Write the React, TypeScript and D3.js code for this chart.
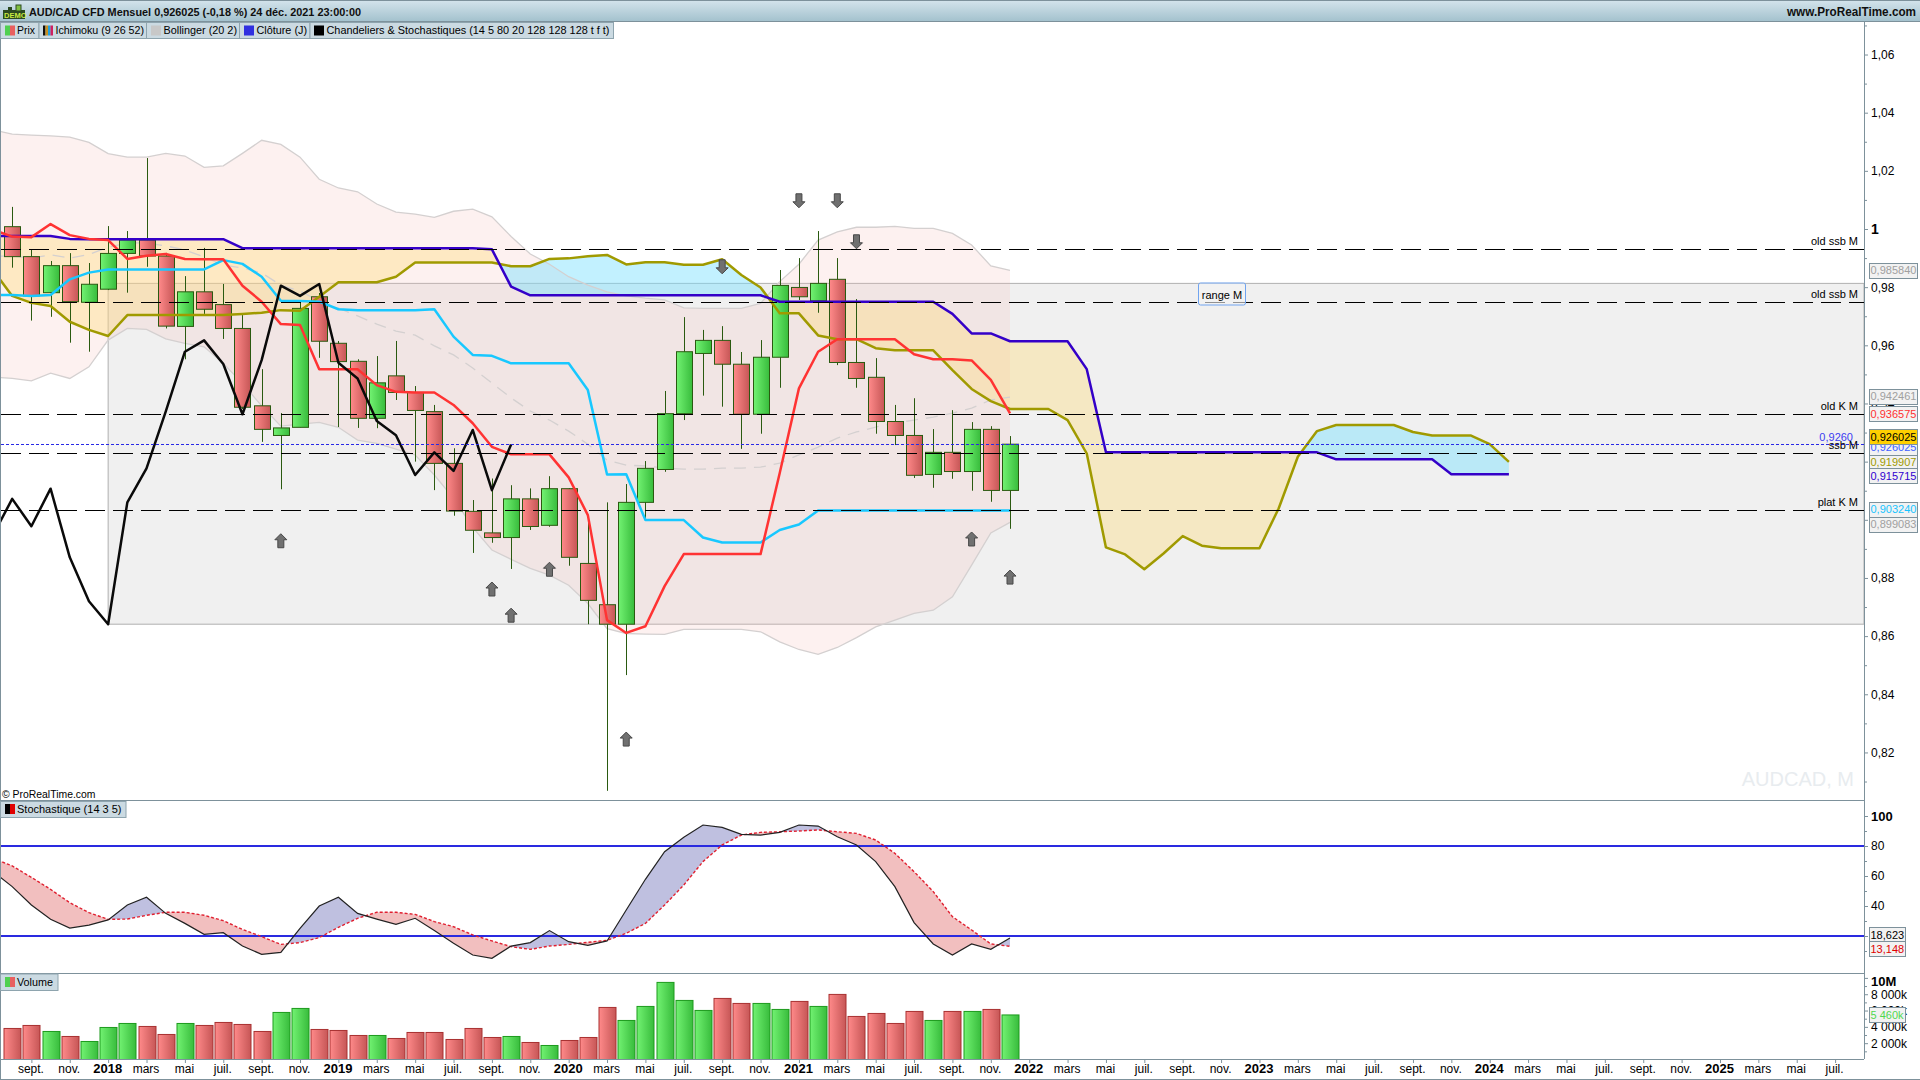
import React, { useEffect, useRef } from "react";
import * as d3 from "d3";

// monthly candles, index 0 = août 2017, 52 = déc. 2021
const opens = [1.0008,0.9905,0.9781,0.9874,0.9748,0.9793,0.9916,0.9962,0.9907,0.9665,0.9784,0.9740,0.9658,0.9392,0.9290,0.9318,0.9767,0.9607,0.9545,0.9349,0.9495,0.9438,0.9372,0.9194,0.9029,0.8955,0.8939,0.9072,0.8981,0.9107,0.8850,0.8708,0.8641,0.9060,0.9173,0.9365,0.9572,0.9617,0.9535,0.9363,0.9559,0.9799,0.9753,0.9827,0.9541,0.9490,0.9338,0.9290,0.9156,0.9232,0.9166,0.9311,0.9101];
const closes = [0.9905,0.9770,0.9874,0.9750,0.9810,0.9916,0.9962,0.9907,0.9666,0.9784,0.9724,0.9658,0.9387,0.9311,0.9316,0.9727,0.9614,0.9544,0.9349,0.9471,0.9438,0.9376,0.9194,0.9030,0.8964,0.8939,0.9072,0.8977,0.9107,0.8871,0.8723,0.8641,0.9060,0.9177,0.9365,0.9578,0.9617,0.9535,0.9363,0.9559,0.9806,0.9767,0.9813,0.9541,0.9486,0.9338,0.9290,0.9153,0.9232,0.9166,0.9311,0.9101,0.9260];
const highs = [1.0076,0.9931,0.9890,0.9917,0.9883,1.0010,0.9993,1.0244,0.9918,0.9838,0.9935,0.9811,0.9704,0.9518,0.9367,0.9750,0.9780,0.9615,0.9552,0.9563,0.9615,0.9460,0.9395,0.9246,0.9068,0.9142,0.9119,0.9108,0.9150,0.9109,0.8996,0.9060,0.9123,0.9202,0.9443,0.9697,0.9653,0.9666,0.9577,0.9618,0.9859,0.9900,0.9993,0.9900,0.9759,0.9556,0.9395,0.9418,0.9312,0.9377,0.9336,0.9322,0.9288];
const lows = [0.9867,0.9685,0.9698,0.9609,0.9578,0.9790,0.9781,0.9870,0.9658,0.9552,0.9708,0.9622,0.9381,0.9268,0.9105,0.9318,0.9557,0.9319,0.9316,0.9315,0.9412,0.9200,0.9102,0.9014,0.8886,0.8921,0.8831,0.8965,0.8976,0.8842,0.8641,0.8068,0.8466,0.9001,0.9165,0.9343,0.9427,0.9389,0.9244,0.9296,0.9454,0.9756,0.9712,0.9532,0.9454,0.9296,0.9257,0.9144,0.9110,0.9141,0.9100,0.9062,0.8969];

// the next series start one month earlier (index -1)
const tenkan = [0.9997,0.9974,0.9972,1.0017,0.9979,0.9966,0.9962,0.9897,0.9908,0.9914,0.9897,0.9896,0.9896,0.9805,0.9750,0.9673,0.9670,0.9518,0.9518,0.9518,0.9463,0.9440,0.9438,0.9438,0.9395,0.9332,0.9251,0.9225,0.9225,0.9225,0.9146,0.9016,0.8655,0.8611,0.8634,0.8772,0.8882,0.8882,0.8882,0.8882,0.8882,0.9161,0.9452,0.9578,0.9621,0.9621,0.9621,0.9621,0.9569,0.9552,0.9552,0.9548,0.9481,0.9366];
const kijun = [0.9773,0.9773,0.9770,0.9773,0.9827,0.9850,0.9861,0.9861,0.9861,0.9861,0.9861,0.9861,0.9893,0.9880,0.9836,0.9753,0.9752,0.9750,0.9724,0.9721,0.9721,0.9721,0.9721,0.9724,0.9630,0.9567,0.9564,0.9538,0.9538,0.9538,0.9538,0.9446,0.9156,0.9157,0.8999,0.8999,0.8999,0.8939,0.8922,0.8922,0.8922,0.8965,0.8984,0.9032,0.9032,0.9032,0.9032,0.9032,0.9032,0.9032,0.9032,0.9032,0.9032,0.9032];
const senkouA = [0.9859,0.9770,0.9746,0.9735,0.9681,0.9653,0.9632,0.9704,0.9704,0.9704,0.9704,0.9704,0.9704,0.9708,0.9712,0.9721,0.9719,0.9767,0.9817,0.9817,0.9817,0.9836,0.9885,0.9885,0.9885,0.9885,0.9885,0.9872,0.9872,0.9897,0.9899,0.9906,0.9911,0.9878,0.9886,0.9886,0.9877,0.9877,0.9896,0.9842,0.9799,0.9710,0.9710,0.9634,0.9621,0.9621,0.9590,0.9583,0.9583,0.9583,0.9515,0.9450,0.9408,0.9381,0.9381,0.9381,0.9343,0.9228,0.8905,0.8881,0.8830,0.8884,0.8944,0.8911,0.8902,0.8902,0.8902,0.9039,0.9217,0.9305,0.9326,0.9326,0.9326,0.9326,0.9302,0.9290,0.9290,0.9290,0.9260,0.9199];
const senkouB = [0.9976,0.9976,0.9976,0.9976,0.9966,0.9965,0.9965,0.9965,0.9965,0.9965,0.9965,0.9965,0.9965,0.9934,0.9934,0.9934,0.9934,0.9934,0.9934,0.9934,0.9934,0.9934,0.9934,0.9934,0.9934,0.9934,0.9930,0.9802,0.9772,0.9772,0.9772,0.9772,0.9772,0.9772,0.9772,0.9772,0.9772,0.9772,0.9772,0.9772,0.9772,0.9750,0.9750,0.9750,0.9750,0.9750,0.9750,0.9750,0.9750,0.9750,0.9708,0.9641,0.9641,0.9614,0.9614,0.9614,0.9614,0.9518,0.9232,0.9232,0.9232,0.9232,0.9232,0.9232,0.9232,0.9232,0.9232,0.9232,0.9232,0.9232,0.9208,0.9208,0.9208,0.9208,0.9208,0.9208,0.9157,0.9157,0.9157,0.9157];
const bollUpper = [1.0341,1.0326,1.0323,1.0320,1.0316,1.0298,1.0259,1.0247,1.0247,1.0260,1.0251,1.0212,1.0217,1.0260,1.0305,1.0291,1.0247,1.0171,1.0141,1.0128,1.0086,1.0058,1.0051,1.0040,1.0061,1.0068,1.0042,0.9974,0.9914,0.9879,0.9836,0.9807,0.9784,0.9770,0.9762,0.9756,0.9729,0.9727,0.9727,0.9727,0.9744,0.9819,0.9879,0.9962,0.9990,1.0006,1.0006,1.0009,1.0002,1.0002,0.9985,0.9945,0.9873,0.9858];
const bollLower = [0.9491,0.9486,0.9478,0.9504,0.9486,0.9526,0.9618,0.9658,0.9655,0.9622,0.9607,0.9595,0.9538,0.9469,0.9392,0.9322,0.9329,0.9335,0.9318,0.9274,0.9263,0.9243,0.9223,0.9154,0.9074,0.8974,0.8896,0.8864,0.8833,0.8810,0.8775,0.8712,0.8626,0.8609,0.8607,0.8606,0.8623,0.8623,0.8623,0.8623,0.8615,0.8580,0.8554,0.8537,0.8561,0.8595,0.8632,0.8655,0.8678,0.8689,0.8735,0.8844,0.8955,0.8991];
const bollMiddle = [0.9907,0.9907,0.9900,0.9911,0.9900,0.9912,0.9938,0.9952,0.9952,0.9942,0.9928,0.9904,0.9876,0.9866,0.9849,0.9807,0.9787,0.9752,0.9728,0.9701,0.9673,0.9649,0.9635,0.9598,0.9567,0.9522,0.9470,0.9419,0.9374,0.9343,0.9305,0.9260,0.9205,0.9188,0.9185,0.9178,0.9174,0.9174,0.9178,0.9178,0.9181,0.9195,0.9223,0.9250,0.9281,0.9302,0.9319,0.9333,0.9343,0.9353,0.9367,0.9384,0.9412,0.9422];
const closeLine = [0.8947,0.9072,0.8978,0.9107,0.8871,0.8720,0.8641,0.9060,0.9177,0.9372,0.9578,0.9617,0.9536,0.9363,0.9549,0.9805,0.9770,0.9811,0.9540,0.9486,0.9340,0.9291,0.9154,0.9232,0.9168,0.9309,0.9102,0.9259];
const stochK = [62.9,52.9,40.7,31.1,25.3,27.3,30.7,40.7,45.8,35.1,28.4,21.1,22.2,13.3,7.8,9.1,25.1,40,45.8,35.1,31.3,27.8,31.8,23.6,15.1,7.3,5.1,13.3,15.6,23.6,16.2,13.8,16.7,37.3,57.8,76.2,85.8,94,92.4,87.8,87.3,89.1,94,93.3,86.2,80.7,69.6,52.9,28.9,14.7,7.3,14.7,11.1,18.6];
const stochD = [71.8,66.7,59.1,51.1,42.2,35.6,31.1,31.3,33.8,35.8,35.8,33.8,30.2,24.4,19.6,14.4,15.6,18.9,25.8,31.8,35.8,35.8,34.4,29.6,26.2,20.7,16.7,12.9,11.1,13.3,14.4,15.8,17.1,21.8,28.4,40.7,54,69.6,80.7,87.3,89.1,89.5,90,90.7,89.5,88.4,84,75.1,62.9,49.6,32.9,24,14.7,13.1];
const volumes = [3804,4172,3436,2822,2209,3926,4417,4049,3068,4417,4172,4540,4295,3436,5767,6258,3681,3558,2945,2945,2577,3313,3313,2454,3804,2699,2822,2086,1718,2331,2699,6380,4785,6503,9448,7239,6012,7485,6871,6871,6135,7117,6503,7976,5276,5644,4417,5890,4785,5890,5890,6135,5460];

const upArrowIdx = [14, 25, 26, 28, 32, 50, 52];
const upArrowPrice = [0.8928, 0.8762, 0.8672, 0.8830, 0.8246, 0.8934, 0.8803];
const downArrowIdx = [37, 41, 43, 44];
const downArrowPrice = [0.9870, 1.0097, 1.0097, 0.9956];

const levelPrices = [0.9931, 0.9748, 0.9363, 0.9228, 0.9032];
const levelLabels = ["old ssb M", "old ssb M", "old K M", "ssb M", "plat K M"];

const priceMajor = [1.06, 1.04, 1.02, 1, 0.98, 0.96, 0.94, 0.92, 0.9, 0.88, 0.86, 0.84, 0.82];
const priceMinor = [1.07, 1.05, 1.03, 1.01, 0.99, 0.97, 0.95, 0.93, 0.91, 0.89, 0.87, 0.85, 0.83, 0.81];
const stochMajor = [100, 80, 60, 40, 20];
const stochMinor = [90, 70, 50, 30, 10];
const volMajor = [10000, 8000, 6000, 4000, 2000];
const volMinor = [9000, 7000, 5000, 3000, 1000];
const monthNames: Record<number, string> = { 2: "mars", 4: "mai", 6: "juil.", 8: "sept.", 10: "nov." };
const timeTicks = d3.range(1, 96, 2);

const priceBoxes = [
  { v: "0,985840", y: 270, c: "#a0a0a0" },
  { v: "0,942461", y: 396.3, c: "#a0a0a0" },
  { v: "0,936575", y: 413.8, c: "#ff3030" },
  { v: "0,926025", y: 447, c: "#4060ff" },
  { v: "0,926025", y: 436.8, c: "#000000", bg: "#ffd000" },
  { v: "0,919907", y: 462, c: "#a09a00" },
  { v: "0,915715", y: 475.5, c: "#3000d0" },
  { v: "0,903240", y: 509.2, c: "#18c4ff" },
  { v: "0,899083", y: 524.2, c: "#a0a0a0" },
];

const LEFT = 1;
const AXIS_X = 1864;
const FONT = "'Liberation Sans', Arial, sans-serif";
const BORDER = "#7d919b";

// adds the crossing points so both fill colours meet on the line
const bandPoints = (start: number, a: number[], b: number[]) => {
  const pts: { i: number; a: number; b: number }[] = [];
  a.forEach((v, k) => {
    if (k > 0) {
      const d0 = a[k - 1] - b[k - 1];
      const d1 = v - b[k];
      if (d0 * d1 < 0) {
        const t = d0 / (d0 - d1);
        const m = a[k - 1] + (v - a[k - 1]) * t;
        pts.push({ i: start + k - 1 + t, a: m, b: m });
      }
    }
    pts.push({ i: start + k, a: v, b: b[k] });
  });
  return pts;
};

const App: React.FC = () => {
  const svgRef = useRef<SVGSVGElement>(null);

  useEffect(() => {
    const svg = d3.select(svgRef.current);
    svg.selectAll("*").remove();

    const x = d3.scaleLinear().domain([0, 52]).range([12.2, 1010]);
    const yP = d3.scaleLinear().domain([1, 0.8]).range([229, 810.6]);
    const yS = d3.scaleLinear().domain([0, 100]).range([966, 816]);
    const yV = d3.scaleLinear().domain([0, 10000]).range([1059.5, 977.9]);

    const defs = svg.append("defs");
    const grad = (id: string, from: string, to: string, vertical = false) => {
      const g = defs.append("linearGradient").attr("id", id)
        .attr("x1", 0).attr("y1", 0).attr("x2", vertical ? 0 : 1).attr("y2", vertical ? 1 : 0);
      g.append("stop").attr("offset", 0).attr("stop-color", from);
      g.append("stop").attr("offset", 1).attr("stop-color", to);
    };
    grad("upG", "#72f272", "#38bc3c");
    grad("dnG", "#ff8a8a", "#c65656");
    grad("titleG", "#d4e4ec", "#a4c2ce", true);
    defs.append("clipPath").attr("id", "priceClip").append("rect")
      .attr("x", LEFT).attr("y", 22).attr("width", AXIS_X - LEFT).attr("height", 778);

    svg.append("rect").attr("width", 1920).attr("height", 1080).attr("fill", "#fff");

    const price = svg.append("g").attr("clip-path", "url(#priceClip)");

    // range M box
    const rangeTop = yP(0.9813);
    const rangeBottom = yP(0.8641);
    price.append("rect").attr("x", x(5)).attr("y", rangeTop)
      .attr("width", AXIS_X - x(5)).attr("height", rangeBottom - rangeTop)
      .attr("fill", "#f0f0f0").attr("stroke", "#b0b0b0");

    // bollinger
    const bollIdx = d3.range(-1, 53);
    const bollArea = d3.area<number>()
      .x((d) => x(d))
      .y0((d) => yP(bollLower[d + 1]))
      .y1((d) => yP(bollUpper[d + 1]));
    price.append("path").attr("d", bollArea(bollIdx))
      .attr("fill", "rgb(245,185,180)").attr("fill-opacity", 0.2);

    // kumo
    const cloud = bandPoints(-1, senkouA, senkouB);
    const cloudArea = d3.area<{ i: number; a: number; b: number }>()
      .x((d) => x(d.i)).y0((d) => yP(d.a)).y1((d) => yP(d.b));
    price.append("path")
      .attr("d", cloudArea.defined((d) => d.a >= d.b)(cloud))
      .attr("fill", "rgb(120,225,255)").attr("fill-opacity", 0.45);
    price.append("path")
      .attr("d", cloudArea.defined((d) => d.a <= d.b)(cloud))
      .attr("fill", "rgb(255,220,120)").attr("fill-opacity", 0.37);

    const lineFrom = (start: number, yScale: d3.ScaleLinear<number, number>) =>
      d3.line<number>().x((_, k) => x(start + k)).y((d) => yScale(d));

    price.append("path").attr("d", lineFrom(-1, yP)(bollUpper))
      .attr("fill", "none").attr("stroke", "#d4d0d0").attr("stroke-width", 1.3);
    price.append("path").attr("d", lineFrom(-1, yP)(bollLower))
      .attr("fill", "none").attr("stroke", "#d4d0d0").attr("stroke-width", 1.3);
    price.append("path").attr("d", lineFrom(-1, yP)(bollMiddle))
      .attr("fill", "none").attr("stroke", "#d4d0d0").attr("stroke-width", 1.3)
      .attr("stroke-dasharray", "12,8");

    // candles
    const candles = price.append("g");
    const centre = (i: number) => Math.round(x(i)) + 0.5;
    opens.forEach((o, i) => {
      const c = closes[i];
      const up = c >= o;
      candles.append("line")
        .attr("x1", centre(i)).attr("x2", centre(i))
        .attr("y1", yP(highs[i])).attr("y2", yP(lows[i]))
        .attr("stroke", "#2a5a10").attr("stroke-width", 1);
      candles.append("rect")
        .attr("x", centre(i) - 8).attr("width", 16)
        .attr("y", yP(Math.max(o, c))).attr("height", Math.abs(yP(o) - yP(c)))
        .attr("fill", up ? "url(#upG)" : "url(#dnG)")
        .attr("stroke", "#2a5a10").attr("stroke-width", 1);
    });

    // ichimoku + close
    const series: [number[], string, number][] = [
      [senkouA, "#a09a00", 2.5],
      [senkouB, "#3400c8", 2.5],
      [kijun, "#18c8ff", 2.5],
      [tenkan, "#ff3333", 2.5],
      [closeLine, "#0a0a0a", 2.5],
    ];
    series.forEach(([vals, colour, w]) => {
      price.append("path").attr("d", lineFrom(-1, yP)(vals))
        .attr("fill", "none").attr("stroke", colour).attr("stroke-width", w)
        .attr("stroke-linejoin", "round");
    });

    // horizontal levels
    levelPrices.forEach((p) => {
      price.append("line").attr("x1", LEFT).attr("x2", AXIS_X)
        .attr("y1", Math.round(yP(p)) + 0.5).attr("y2", Math.round(yP(p)) + 0.5)
        .attr("stroke", "#000").attr("stroke-width", 1).attr("stroke-dasharray", "20,8");
    });
    price.append("line").attr("x1", LEFT).attr("x2", AXIS_X)
      .attr("y1", Math.round(yP(0.926025)) + 0.5).attr("y2", Math.round(yP(0.926025)) + 0.5)
      .attr("stroke", "#2828e6").attr("stroke-width", 1).attr("stroke-dasharray", "3,2");

    // arrows
    const arrowUp = "M0,-7L6,-1L3,-1L3,7L-3,7L-3,-1L-6,-1Z";
    const arrowDown = "M0,7L6,1L3,1L3,-7L-3,-7L-3,1L-6,1Z";
    upArrowIdx.forEach((i, k) => {
      price.append("path").attr("d", arrowUp)
        .attr("transform", `translate(${x(i)},${yP(upArrowPrice[k])})`)
        .attr("fill", "#707070").attr("stroke", "#484848");
    });
    downArrowIdx.forEach((i, k) => {
      price.append("path").attr("d", arrowDown)
        .attr("transform", `translate(${x(i)},${yP(downArrowPrice[k])})`)
        .attr("fill", "#707070").attr("stroke", "#484848");
    });

    const label = (
      parent: d3.Selection<any, unknown, null, undefined>,
      tx: number, ty: number, text: string, size = 11, fill = "#000", anchor = "start", weight = "normal", fit = 0,
    ) => {
      const t = parent.append("text").attr("x", tx).attr("y", ty).attr("text-anchor", anchor)
        .attr("font-family", FONT).attr("font-size", size).attr("font-weight", weight)
        .attr("fill", fill).text(text);
      if (fit) t.attr("textLength", fit).attr("lengthAdjust", "spacingAndGlyphs");
      return t;
    };

    // range M tag
    price.append("rect").attr("x", 1198.5).attr("y", 283).attr("width", 47).attr("height", 22).attr("rx", 2)
      .attr("fill", "#f4f4f4").attr("fill-opacity", 0.6).attr("stroke", "#70a4f0");
    label(price, 1222, 299, "range M", 11, "#000", "middle");

    levelPrices.forEach((p, k) => {
      label(price, 1858, Math.round(yP(p)) - 4, levelLabels[k], 11, "#000", "end");
    });
    label(price, 1853, 441, "0,9260", 11, "#3c3cf0", "end");
    label(price, 1854, 786, "AUDCAD, M", 20, "#e8ecef", "end");
    label(price, 2, 798, "\u00a9 ProRealTime.com", 11, "#000", "start", "normal", 93.5);

    // stochastic panel
    const stochFill = bandPoints(-1, stochK, stochD);
    const stochArea = d3.area<{ i: number; a: number; b: number }>()
      .x((d) => x(d.i)).y0((d) => yS(d.a)).y1((d) => yS(d.b));
    const stoch = svg.append("g");
    stoch.append("path").attr("d", stochArea.defined((d) => d.a >= d.b)(stochFill)).attr("fill", "#bfc0e0");
    stoch.append("path").attr("d", stochArea.defined((d) => d.a <= d.b)(stochFill)).attr("fill", "#f2bfbf");
    [80, 20].forEach((v) => {
      stoch.append("line").attr("x1", LEFT).attr("x2", AXIS_X).attr("y1", yS(v)).attr("y2", yS(v))
        .attr("stroke", "#2a2ae0").attr("stroke-width", 2);
    });
    stoch.append("path").attr("d", lineFrom(-1, yS)(stochD)).attr("fill", "none")
      .attr("stroke", "#e02030").attr("stroke-width", 1.4).attr("stroke-dasharray", "3,2");
    stoch.append("path").attr("d", lineFrom(-1, yS)(stochK)).attr("fill", "none")
      .attr("stroke", "#222").attr("stroke-width", 1.2);

    // volume panel
    const vol = svg.append("g");
    volumes.forEach((v, i) => {
      const up = closes[i] >= opens[i];
      vol.append("rect").attr("x", centre(i) - 8.5).attr("width", 17)
        .attr("y", yV(v)).attr("height", yV(0) - yV(v))
        .attr("fill", up ? "url(#upG)" : "url(#dnG)")
        .attr("stroke", up ? "#1c9a1c" : "#a83030").attr("stroke-width", 1);
    });

    // right axes
    const styleAxis = (g: d3.Selection<SVGGElement, unknown, null, undefined>) => {
      g.select(".domain").remove();
      g.selectAll("line").attr("stroke", BORDER);
      g.selectAll("text").attr("font-family", FONT).attr("font-size", 12).attr("fill", "#000");
    };
    // 0,92 and 0,90 sit behind the value boxes in the reference
    const fmtPrice = (d: d3.NumberValue) => {
      if (+d === 1) return "1";
      if (+d === 0.92 || +d === 0.9) return "";
      return (+d).toFixed(2).replace(".", ",");
    };
    const axes = svg.append("g").attr("transform", `translate(${AXIS_X},0)`);
    const rightAxis = (scale: d3.ScaleLinear<number, number>, major: number[], minor: number[], fmt: (d: d3.NumberValue) => string) => {
      axes.append("g").call(d3.axisRight(scale).tickValues(minor).tickSize(3).tickFormat(() => "")).call(styleAxis);
      return axes.append("g").call(d3.axisRight(scale).tickValues(major).tickSize(4).tickPadding(3).tickFormat(fmt)).call(styleAxis);
    };
    const pa = rightAxis(yP, priceMajor, priceMinor, fmtPrice);
    pa.selectAll<SVGTextElement, number>("text").filter((d) => d === 1)
      .attr("font-weight", "bold").attr("font-size", 14);
    const sa = rightAxis(yS, stochMajor, stochMinor, (d) => (+d === 20 ? "" : String(d)));
    sa.selectAll<SVGTextElement, number>("text").filter((d) => d === 100)
      .attr("font-weight", "bold").attr("font-size", 13);
    const va = rightAxis(yV, volMajor, volMinor, (d) =>
      +d === 10000 ? "10M" : `${+d / 1000} 000k`);
    va.selectAll<SVGTextElement, number>("text").filter((d) => d === 10000)
      .attr("font-weight", "bold").attr("font-size", 13).attr("dy", "0.32em").attr("y", 3.8);

    // time axis
    const timeAxis = d3.axisBottom(x).tickValues(timeTicks).tickSize(4).tickPadding(1)
      .tickFormat((d) => {
        const m = (+d + 7) % 12;
        return m === 0 ? String(2017 + Math.floor((+d + 7) / 12)) : monthNames[m];
      });
    const ta = svg.append("g").attr("transform", "translate(0,1059)").call(timeAxis);
    ta.select(".domain").remove();
    ta.selectAll("line").attr("stroke", BORDER);
    ta.selectAll("text").attr("font-family", FONT).attr("font-size", 12).attr("fill", "#000").attr("x", -1);
    ta.selectAll<SVGTextElement, number>("text").filter((d) => (d + 7) % 12 === 0)
      .attr("font-weight", "bold").attr("font-size", 13);

    // frame
    const rule = (x1: number, y1: number, x2: number, y2: number) =>
      svg.append("line").attr("x1", x1).attr("y1", y1).attr("x2", x2).attr("y2", y2).attr("stroke", BORDER);
    rule(0.5, 22, 0.5, 1080);
    rule(AXIS_X + 0.5, 22, AXIS_X + 0.5, 1059);
    rule(0, 800.5, AXIS_X, 800.5);
    rule(0, 973.5, AXIS_X, 973.5);
    rule(0, 1059.5, AXIS_X, 1059.5);
    rule(0, 1079.5, 1920, 1079.5);

    // value boxes on the axis
    const box = (bx: number, w: number, cy: number, text: string, colour: string, bg = "#f2f2f2") => {
      svg.append("rect").attr("x", bx + 0.5).attr("y", Math.round(cy - 7.5) + 0.5).attr("width", w).attr("height", 15)
        .attr("fill", bg).attr("stroke", BORDER);
      label(svg as any, bx + 1.5, cy + 4, text, 11, colour);
    };
    priceBoxes.forEach((b) => box(1869, 48, b.y, b.v, b.c, b.bg));
    box(1869, 36, 934.7, "18,623", "#000");
    box(1869, 36, 948.7, "13,148", "#e00000");
    box(1869, 36, 1014.8, "5 460k", "#50d850");

    // title bar
    svg.append("rect").attr("x", 0).attr("y", 0).attr("width", 1920).attr("height", 21)
      .attr("fill", "url(#titleG)");
    rule(0, 0.5, 1920, 0.5);
    rule(0, 21.5, 1920, 21.5);
    svg.append("rect").attr("x", 3).attr("y", 10).attr("width", 22).attr("height", 9).attr("fill", "#2c4a20");
    svg.append("rect").attr("x", 8).attr("y", 7).attr("width", 4).attr("height", 4).attr("fill", "#2c4a20");
    svg.append("rect").attr("x", 16).attr("y", 5).attr("width", 5).attr("height", 6).attr("fill", "#80c040").attr("stroke", "#2c4a20");
    label(svg as any, 4, 18, "DEMO", 7.5, "#c8e840", "start", "bold");
    label(svg as any, 29, 16, "AUD/CAD CFD Mensuel 0,926025 (-0,18 %) 24 d\u00e9c. 2021 23:00:00", 11, "#101010", "start", "bold", 332);
    label(svg as any, 1916, 16, "www.ProRealTime.com", 12, "#101010", "end", "bold", 129);

    // legend tabs
    const tab = (bx: number, by: number, w: number, h: number) =>
      svg.append("rect").attr("x", bx + 0.5).attr("y", by + 0.5).attr("width", w).attr("height", h)
        .attr("fill", "#cbdae2").attr("stroke", "#8ea4ae");
    tab(0, 22, 38.5, 16);
    tab(38.5, 22, 107.5, 16);
    tab(146, 22, 93, 16);
    tab(239, 22, 70.5, 16);
    tab(309.5, 22, 303.5, 16);
    const swatch = (sx: number, w: number, sy: number, fill: string) =>
      svg.append("rect").attr("x", sx).attr("y", sy).attr("width", w).attr("height", 10).attr("fill", fill);
    swatch(5, 5, 25.5, "#50d050");
    swatch(10, 5, 25.5, "#e86060");
    swatch(43, 2.5, 25.5, "#101010");
    swatch(45.5, 2.5, 25.5, "#c89020");
    swatch(48, 2.5, 25.5, "#20a0e0");
    swatch(50.5, 2.5, 25.5, "#d02060");
    swatch(151, 10, 25.5, "#c8c8c8");
    swatch(244, 10, 25.5, "#3030e0");
    swatch(314, 10, 25.5, "#000");
    label(svg as any, 17, 34, "Prix", 11, "#000", "start", "normal", 18);
    label(svg as any, 55.5, 34, "Ichimoku (9 26 52)", 11, "#000", "start", "normal", 88.5);
    label(svg as any, 163.5, 34, "Bollinger (20 2)", 11, "#000", "start", "normal", 73.5);
    label(svg as any, 256.5, 34, "Cl\u00f4ture (J)", 11, "#000", "start", "normal", 50.5);
    label(svg as any, 326.5, 34, "Chandeliers & Stochastiques (14 5 80 20 128 128 128 t f t)", 11, "#000", "start", "normal", 283);

    tab(0, 801, 125.5, 16);
    swatch(5, 5, 804, "#000");
    swatch(10, 5, 804, "#e00000");
    label(svg as any, 17, 813, "Stochastique (14 3 5)", 11, "#000", "start", "normal", 104.5);
    tab(0, 973.5, 57.5, 16.5);
    swatch(5, 5, 977, "#50d050");
    swatch(10, 5, 977, "#e86060");
    label(svg as any, 17, 986, "Volume", 11, "#000", "start", "normal", 36);
  }, []);

  return (
    <svg
      ref={svgRef}
      width={1920}
      height={1080}
      style={{ position: "absolute", left: 0, top: 0, display: "block" }}
    />
  );
};

export default App;
